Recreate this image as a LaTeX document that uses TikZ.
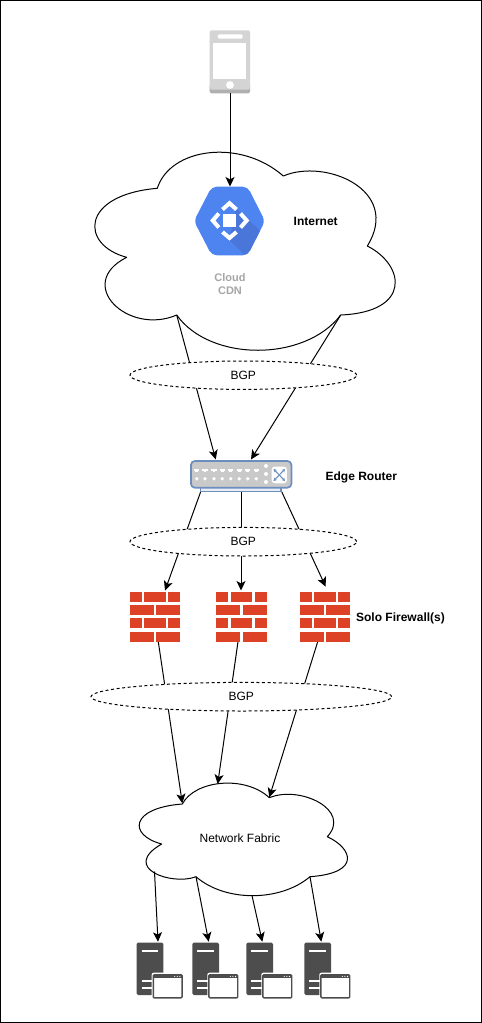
\documentclass[tikz,border=0pt]{standalone}
\usepackage{fontspec}
\setmainfont{Liberation Sans}
\usetikzlibrary{arrows.meta,shapes.geometric}
\definecolor{brick}{HTML}{DD4126}
\definecolor{srv}{HTML}{4D4D4D}
\definecolor{cdnblue}{HTML}{4E84F0}
\definecolor{cdnshade}{HTML}{4A76DA}
\definecolor{rblue}{HTML}{6C8EBF}
\tikzset{
  x=1pt,y=-1pt,
  conn/.style={draw=black,line width=1pt,-{Stealth[length=9.5pt,width=9pt,inset=2.4pt]}},
  cloudline/.style={draw=black,line width=1pt,fill=white,line join=round},
  bgpring/.style={ellipse,draw=black,fill=white,line width=1pt,dash pattern=on 3pt off 2.6pt,inner sep=0pt,font=\fontsize{12}{14}\selectfont},
  lab/.style={font=\fontsize{12}{14}\selectfont,inner sep=0pt},
  blab/.style={font=\fontsize{12}{14}\selectfont\bfseries,inner sep=0pt},
  firewall/.pic={
    \foreach \yy in {0,26.67}{
      \fill[brick] (0,\yy) rectangle +(12,10);
      \fill[brick] (14.3,\yy) rectangle +(21.7,10);
      \fill[brick] (38.3,\yy) rectangle +(12,10);
      \fill[brick] (0,\yy+13.33) rectangle +(24,10);
      \fill[brick] (26.3,\yy+13.33) rectangle +(24,10);
    }
  },
  serverbox/.pic={
    \fill[srv,rounded corners=1.5pt] (0,0) rectangle (26.7,52.5);
    \fill[white] (5,7) rectangle (21.7,9);
    \fill[white] (5,37.5) rectangle (17,39.5);
    \fill[white] (5,44) rectangle (17,46);
    \fill[white,rounded corners=2pt] (15,30.2) rectangle (47,57);
    \draw[srv,line width=1.4pt,rounded corners=1pt] (16.6,32.3) rectangle (45.4,55.3);
    \fill[srv] (16.6,32.3) rectangle (45.4,35.6);
    \fill[white] (38,33.9) circle (.6) (40.6,33.9) circle (.6) (43.2,33.9) circle (.6);
  },
}
\begin{document}
\begin{tikzpicture}
\useasboundingbox (0,0) rectangle (482,1023);
\fill[white] (0,0) rectangle (482,1023);
\draw[black,line width=1pt] (.5,.5) rectangle (481.5,1022.5);

% anchor points
\coordinate (phoneS) at (230,93);
\coordinate (cdnN) at (230,186.5);
\coordinate (netSW) at (176.7,315);
\coordinate (netSE) at (340.7,315);
\coordinate (routerN1) at (215.7,459.5);
\coordinate (routerN2) at (251,459.5);
\coordinate (routerS1) at (200.7,491.7);
\coordinate (routerS2) at (241,491.7);
\coordinate (routerS3) at (281.7,491.7);
\coordinate (fw1N) at (165,590.5);
\coordinate (fw2N) at (241,590.5);
\coordinate (fw3N) at (325.7,586.7);
\coordinate (fw1S) at (158.3,641.7);
\coordinate (fw2S) at (238,641.7);
\coordinate (fw3S) at (317.7,641.7);
\coordinate (fabA) at (182.3,803.3);
\coordinate (fabB) at (217.7,784);
\coordinate (fabC) at (269.3,797.3);
\coordinate (fabS1) at (154.5,871.5);
\coordinate (fabS2) at (196,876.7);
\coordinate (fabS3) at (252,895.5);
\coordinate (fabS4) at (310,876.7);
\coordinate (srv1N) at (158,941.7);
\coordinate (srv2N) at (208.7,941.7);
\coordinate (srv3N) at (262.3,941.7);
\coordinate (srv4N) at (321.3,941.7);

% clouds
\path[cloudline] (157.3,188.3) .. controls (170,148) and (240,138) .. (283.3,176)
  .. controls (325,158) and (402,190) .. (367.3,246)
  .. controls (405,265) and (412,312) .. (340.7,315)
  .. controls (305,362) and (210,362) .. (176.7,315)
  .. controls (128,336) and (74,284) .. (126.7,257.3)
  .. controls (80,245) and (80,195) .. (157.3,188.3) -- cycle;
\path[cloudline] (182.3,804) .. controls (195,780) and (245,775) .. (269.3,797.7)
  .. controls (300,785) and (352,810) .. (327.3,836.7)
  .. controls (352,848) and (362,873) .. (310,876.7)
  .. controls (280,902) and (225,902) .. (196,876.7)
  .. controls (172,886) and (120,868) .. (161.7,844)
  .. controls (128,835) and (130,808) .. (182.3,804) -- cycle;

% phone
\fill[black!31,rounded corners=1.5pt] (209.7,84) rectangle (250,93.3);
\fill[black!17,rounded corners=1.5pt] (209.7,30.3) rectangle (250,89.5);
\fill[white,rounded corners=2pt] (217.7,34.3) rectangle (242.7,38.7);
\fill[white] (213.3,42.7) rectangle (246,78.7);
\fill[white] (230,85) circle (3.9);
\node[inner sep=0pt,minimum size=0pt] (phone) at (230,62) {};

% connectors
\draw[conn] (phoneS) -- (cdnN);
\draw[conn] (netSW) -- (routerN1);
\draw[conn] (netSE) -- (routerN2);
\draw[conn] (routerS1) -- (fw1N);
\draw[conn] (routerS2) -- (fw2N);
\draw[conn] (routerS3) -- (fw3N);
\draw[conn] (fw1S) -- (fabA);
\draw[conn] (fw2S) -- (fabB);
\draw[conn] (fw3S) -- (fabC);
\draw[conn] (fabS1) -- (srv1N);
\draw[conn] (fabS2) -- (srv2N);
\draw[conn] (fabS3) -- (srv3N);
\draw[conn] (fabS4) -- (srv4N);

% BGP rings
\node[bgpring,minimum width=226.6pt,minimum height=28.4pt] (bgp1) at (243.3,375.2) {\raisebox{-1pt}{BGP}};
\node[bgpring,minimum width=226.6pt,minimum height=28.6pt] (bgp2) at (243.3,541.7) {\raisebox{-1pt}{BGP}};
\node[bgpring,minimum width=300.6pt,minimum height=28.6pt] (bgp3) at (241.3,696.7) {\raisebox{-1pt}{BGP}};

% CDN hexagon
\begin{scope}
  \clip[rounded corners=5pt] (194,221) -- (211.7,186.7) -- (247.6,186.7) -- (265,221) -- (247.6,255.3) -- (211.7,255.3) -- cycle;
  \fill[cdnblue] (190,180) rectangle (270,260);
  \fill[cdnshade] (236,208.3) -- (270,240) -- (270,260) -- (250,260) -- (229.3,240) -- cycle;
\end{scope}
\fill[white] (223.3,214.3) rectangle (235.7,226.7);
\draw[white,line width=4pt,miter limit=10] (222.5,209.5) -- (229.5,203.2) -- (236.5,209.5);
\draw[white,line width=4pt,miter limit=10] (222.5,232) -- (229.5,238) -- (236.5,232);
\draw[white,line width=4pt,miter limit=10] (218.8,213.5) -- (212.8,220.5) -- (218.8,227.5);
\draw[white,line width=4pt,miter limit=10] (240.5,213.5) -- (246.7,220.5) -- (240.5,227.5);
\node[inner sep=0pt,font=\fontsize{11}{13}\selectfont\bfseries,text=black!35,align=center] (cdnlabel) at (230,284.2) {Cloud\\CDN};
\node[blab] (internet) at (315.7,221.3) {Internet};

% router
\fill[white!85!rblue,draw=rblue,line width=1.2pt] (200.7,487) rectangle (281,491.3);
\fill[black!21,draw=rblue,line width=1.7pt,rounded corners=4pt] (190.9,461) rectangle (291.4,487.7);
\foreach \px in {196.7,205,214,222.3,230.7,239.3,247.7,256.3}{
  \fill[white] (\px-2.7,468.5) rectangle (\px+2.7,471.2);
  \fill[white] (\px-1.4,471.2) rectangle (\px+1.4,472.2);
  \fill[white] (\px,478.7) circle (1.9);
}
\foreach \py in {466,474,482}{\fill[white] (266,\py) circle (2);}
\fill[white,rounded corners=3pt] (271.7,466.5) rectangle (286.9,483.3);
\draw[rblue,line width=1pt,{Stealth[length=3.2pt,width=3.6pt]}-{Stealth[length=3.2pt,width=3.6pt]}] (273.5,469) -- (285,481);
\draw[rblue,line width=1pt,{Stealth[length=3.2pt,width=3.6pt]}-{Stealth[length=3.2pt,width=3.6pt]}] (285,469) -- (273.5,481);
\node[blab] (edge) at (361.3,477) {Edge Router};

% firewalls
\pic at (130,591.7) {firewall};
\pic at (216.3,591.7) {firewall};
\pic at (300,591.7) {firewall};
\node[blab] (solo) at (400.5,618) {Solo Firewall(s)};

% fabric text
\node[lab] (fabric) at (240,837.8) {Network Fabric};

% servers
\pic at (136.7,942.5) {serverbox};
\pic at (192.3,942.5) {serverbox};
\pic at (246.3,942.5) {serverbox};
\pic at (304.3,942.5) {serverbox};
\end{tikzpicture}
\end{document}
